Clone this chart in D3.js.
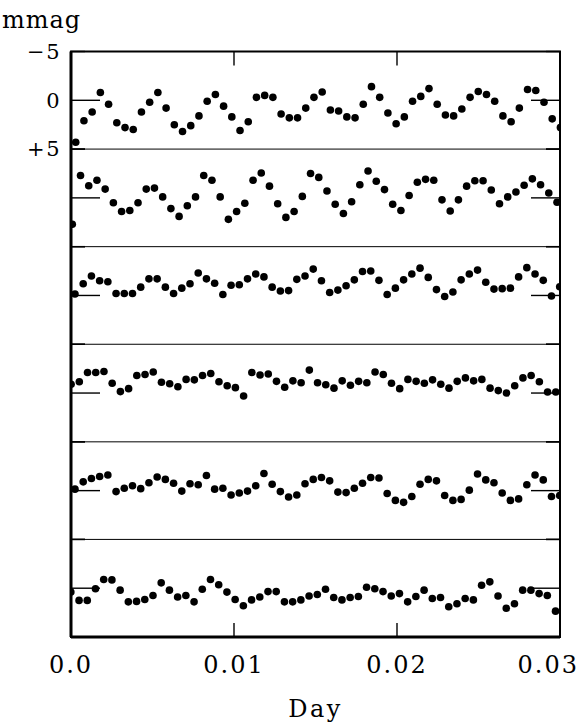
<!DOCTYPE html>
<html>
<head>
<meta charset="utf-8">
<script src="https://cdn.jsdelivr.net/npm/d3@7"></script>
<style>
  html, body { margin: 0; padding: 0; background: #ffffff; }
  svg { display: block; }
  text { font-family: "DejaVu Serif", "Liberation Serif", serif; fill: #000; }
</style>
</head>
<body>
<div id="chart"></div>
<script>
// Axis ticks
const X_TICKS = [0.0, 0.01, 0.02, 0.03];
const X_TICK_LABELS = ['0.0', '0.01', '0.02', '0.03'];
const Y_TICKS = [-5, 0, 5];
const Y_TICK_LABELS = ['\u22125', '0', '+5'];

// Sampling: one exposure every ~43.5 s, first exposure time per light curve (day)
const CADENCE = 0.000504;
const START_TIMES = [0.00029, 0.00008, 0.000245, 0.000006, 0.000245, -0.00001];

// Differential magnitudes (mmag), top to bottom
const lc1 = [4.3, 2.1, 1.2, -0.8, 0.4, 2.3, 2.8, 3.0, 1.2, 0.2,
             -0.8, 0.8, 2.5, 3.2, 2.6, 1.6, 0.1, -0.6, 0.6, 1.7,
             3.1, 2.2, -0.3, -0.5, -0.3, 1.4, 1.8, 1.8, 0.8, -0.3,
             -0.85, 1.0, 1.1, 1.7, 1.8, 0.4, -1.4, -0.3, 1.3, 2.4,
             1.7, 0.1, -0.4, -1.2, 0.4, 1.5, 1.6, 0.9, -0.3, -0.9,
             -0.6, 0.1, 1.6, 2.2, 0.8, -1.1, -1.0, 0.2, 1.9, 2.8];
const lc2 = [2.7, -2.3, -1.25, -1.8, -0.9, 0.5, 1.4, 1.3, 0.5, -0.9,
             -1.0, -0.1, 1.1, 1.9, 0.8, -0.1, -2.3, -1.8, -0.1, 2.2,
             1.4, 0.55, -1.8, -2.55, -1.2, 0.6, 2.0, 1.4, -0.15, -2.5,
             -2.1, -0.7, 0.65, 1.6, 0.4, -1.35, -2.75, -1.7, -0.85, 0.65,
             1.3, -0.25, -1.6, -1.9, -1.8, 0.2, 1.35, 0.2, -1.2, -1.75,
             -1.75, -0.8, 0.6, -0.1, -0.6, -1.3, -1.95, -1.35, -0.5, 0.45];
const lc3 = [-0.15, -1.2, -2.0, -1.5, -1.4, -0.2, -0.2, -0.2, -0.85, -1.7,
             -1.7, -0.85, -0.2, -0.75, -1.2, -2.3, -1.7, -1.25, -0.1, -1.05,
             -1.1, -1.7, -2.2, -1.9, -0.85, -0.45, -0.5, -1.65, -2.0, -2.7,
             -1.5, -0.3, -0.55, -1.0, -1.6, -2.45, -2.5, -1.55, -0.1, -0.75,
             -1.6, -2.2, -2.8, -1.85, -0.6, 0.1, -0.35, -1.6, -2.2, -2.6,
             -1.35, -0.65, -0.7, -0.75, -1.9, -2.85, -2.2, -1.55, 0.05, -0.9];
const lc4 = [-0.9, -1.15, -2.1, -2.1, -2.2, -1.0, -0.15, -0.45, -1.8, -1.9,
             -2.15, -1.1, -0.95, -0.65, -1.4, -1.35, -1.8, -2.0, -1.15, -0.75,
             -0.55, 0.3, -2.1, -1.85, -1.95, -1.2, -0.6, -1.25, -1.05, -2.35,
             -1.05, -0.85, -0.5, -1.25, -0.8, -1.2, -1.05, -2.15, -1.9, -1.0,
             -0.45, -1.4, -1.2, -1.0, -1.35, -0.9, -0.5, -1.2, -1.55, -1.25,
             -1.4, -0.5, -0.25, 0.0, -0.75, -1.55, -1.8, -1.15, -0.1, -0.1];
const lc5 = [-0.15, -0.9, -1.25, -1.45, -1.6, 0.1, -0.25, -0.5, -0.2, -0.8,
             -1.4, -1.15, -0.75, 0.05, -0.7, -0.6, -1.55, -0.15, -0.25, 0.45,
             0.25, 0.05, -0.5, -1.75, -0.65, 0.1, 0.65, 0.45, -0.7, -1.15,
             -1.35, -1.0, 0.15, 0.2, -0.25, -0.75, -1.35, -1.3, 0.3, 1.0,
             1.2, 0.6, -0.65, -1.15, -1.0, 0.5, 1.0, 0.9, -0.05, -1.7,
             -1.1, -0.8, 0.25, 1.0, 0.85, -0.6, -1.6, -1.1, 0.6, 0.5];
const lc6 = [0.4, 1.25, 1.25, 0.05, -0.9, -0.85, 0.2, 1.4, 1.35, 1.15,
             0.75, -0.55, 0.2, 0.9, 0.75, 1.4, 0.1, -0.9, -0.35, 0.4,
             1.15, 1.8, 1.2, 0.9, 0.35, 0.35, 1.4, 1.4, 1.2, 0.8,
             0.65, 0.1, 0.95, 1.2, 0.95, 0.85, -0.1, 0.05, 0.35, 0.8,
             0.55, 1.4, 0.85, 0.2, 1.05, 0.95, 1.9, 1.6, 1.05, 1.2,
             -0.3, -0.65, 0.8, 2.05, 1.6, 0.2, 0.2, 0.55, 0.75, 2.35];

const LIGHT_CURVES = [lc1, lc2, lc3, lc4, lc5, lc6];

const W = 582, H = 725;
const frame = { left: 71, right: 560, top: 51.5, bottom: 637 };
const panelH = (frame.bottom - frame.top) / LIGHT_CURVES.length;

const svg = d3.select('#chart').append('svg')
    .attr('width', W)
    .attr('height', H);

svg.append('defs').append('clipPath')
    .attr('id', 'frame-clip')
  .append('rect')
    .attr('x', frame.left)
    .attr('y', frame.top)
    .attr('width', frame.right - frame.left)
    .attr('height', frame.bottom - frame.top);

const x = d3.scaleLinear()
    .domain([0, 0.03])
    .range([frame.left, frame.right]);

// Panels
LIGHT_CURVES.forEach((values, i) => {
    const top = frame.top + i * panelH;
    const y = d3.scaleLinear().domain([-5, 5]).range([top, top + panelH]);
    const g = svg.append('g').attr('class', 'panel');

    // separator line under the panel
    if (i < LIGHT_CURVES.length - 1) {
        g.append('line')
            .attr('x1', frame.left).attr('x2', frame.right)
            .attr('y1', y(5)).attr('y2', y(5))
            .attr('stroke', '#000').attr('stroke-width', 1);
    }

    // y ticks on both sides
    Y_TICKS.forEach(v => {
        const len = v === 0 ? 29 : 14;
        g.append('line')
            .attr('x1', frame.left).attr('x2', frame.left + len)
            .attr('y1', y(v)).attr('y2', y(v))
            .attr('stroke', '#000').attr('stroke-width', 1.4);
        g.append('line')
            .attr('x1', frame.right - len).attr('x2', frame.right)
            .attr('y1', y(v)).attr('y2', y(v))
            .attr('stroke', '#000').attr('stroke-width', 1.4);
    });

    // points
    g.append('g')
        .attr('clip-path', 'url(#frame-clip)')
      .selectAll('circle')
      .data(values)
      .join('circle')
        .attr('cx', (d, k) => x(START_TIMES[i] + k * CADENCE))
        .attr('cy', d => y(d))
        .attr('r', 3.8)
        .attr('fill', '#000');

    // tick labels only on the top panel
    if (i === 0) {
        Y_TICKS.forEach((v, k) => {
            svg.append('text')
                .attr('x', 61)
                .attr('y', y(v))
                .attr('dy', '0.35em')
                .attr('text-anchor', 'end')
                .attr('font-size', 21)
                .attr('letter-spacing', 1.5)
                .text(Y_TICK_LABELS[k]);
        });
    }
});

// x ticks, top and bottom
X_TICKS.forEach((v, k) => {
    svg.append('line')
        .attr('x1', x(v)).attr('x2', x(v))
        .attr('y1', frame.top).attr('y2', frame.top + 14)
        .attr('stroke', '#000').attr('stroke-width', 1.4);
    svg.append('line')
        .attr('x1', x(v)).attr('x2', x(v))
        .attr('y1', frame.bottom - 14).attr('y2', frame.bottom)
        .attr('stroke', '#000').attr('stroke-width', 1.4);
    const label = svg.append('text')
        .attr('x', x(v))
        .attr('y', 673)
        .attr('text-anchor', 'middle')
        .attr('font-size', 24)
        .attr('letter-spacing', 2)
        .text(X_TICK_LABELS[k]);
    // keep the last label inside the page, as in the original
    const box = label.node().getBBox();
    if (box.x + box.width > W - 3) {
        label.attr('text-anchor', 'end').attr('x', W - 3);
    }
});

// frame
svg.append('rect')
    .attr('x', frame.left)
    .attr('y', frame.top)
    .attr('width', frame.right - frame.left)
    .attr('height', frame.bottom - frame.top)
    .attr('fill', 'none')
    .attr('stroke', '#000')
    .attr('stroke-width', 2);
svg.append('line')
    .attr('x1', frame.left).attr('x2', frame.left)
    .attr('y1', frame.top).attr('y2', frame.bottom)
    .attr('stroke', '#000').attr('stroke-width', 3);
svg.append('line')
    .attr('x1', frame.left).attr('x2', frame.right)
    .attr('y1', frame.bottom).attr('y2', frame.bottom)
    .attr('stroke', '#000').attr('stroke-width', 3);

// axis titles
svg.append('text')
    .attr('x', 2)
    .attr('y', 28)
    .attr('font-size', 24)
    .attr('letter-spacing', 1)
    .text('mmag');

svg.append('text')
    .attr('x', (frame.left + frame.right) / 2)
    .attr('y', 717)
    .attr('text-anchor', 'middle')
    .attr('font-size', 24)
    .attr('letter-spacing', 2.5)
    .text('Day');
</script>
</body>
</html>
